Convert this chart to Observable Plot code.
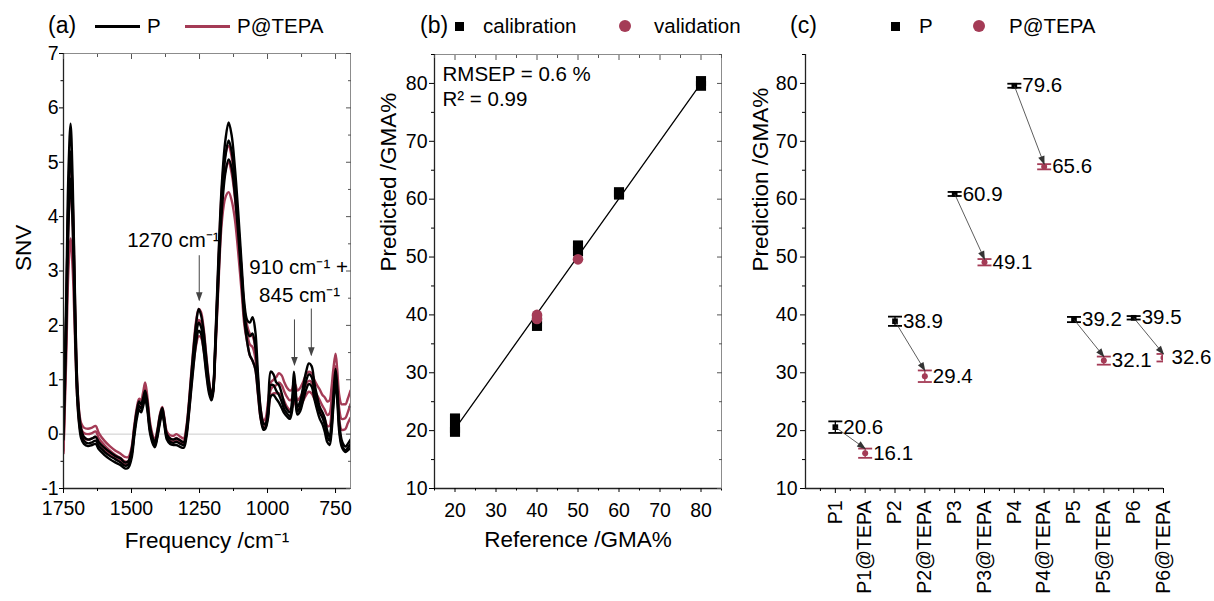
<!DOCTYPE html>
<html><head><meta charset="utf-8">
<script src="https://cdn.jsdelivr.net/npm/d3@7"></script>
<script src="https://cdn.jsdelivr.net/npm/@observablehq/plot@0.6"></script>
<style>
body{margin:0;background:#fff;font-family:"Liberation Sans",Arial,sans-serif;}
#wrap{position:relative;width:1214px;height:601px;overflow:hidden;background:#fff;}
.pan{position:absolute;top:40px;}
.leg{position:absolute;white-space:nowrap;line-height:1.2;color:#000;}
.sw{position:absolute;}
</style></head>
<body><div id="wrap"></div>
<script>
// ---------- Panel (a): spectra ----------
const wavenumber = [1750,1740,1732,1724,1716,1708,1700,1692,1685,1675,1660,1645,1632,1620,1600,1580,1560,1540,1525,1512,1500,1490,1480,1472,1465,1458,1450,1442,1432,1420,1414,1405,1395,1387,1380,1370,1358,1345,1335,1320,1308,1298,1288,1275,1262,1253,1245,1235,1225,1215,1206,1200,1192,1180,1168,1155,1143,1132,1120,1108,1095,1085,1075,1065,1055,1045,1035,1025,1015,1008,998,988,978,968,958,948,938,928,918,910,903,897,890,880,870,858,848,838,828,818,808,798,790,780,772,765,758,750,744,736,728,720,713,705,695];

const P_high = [0.3,2.5,4.8,5.71,4.6,2.6,1.0,0.35,0.1,-0.05,
 -0.1,-0.08,-0.05,-0.15,-0.25,-0.33,-0.4,-0.45,-0.52,-0.5,
 -0.3,0.1,0.45,0.6,0.55,0.65,0.8,0.6,0.15,-0.1,
 -0.15,0.05,0.35,0.48,0.3,0.0,-0.08,-0.1,-0.08,-0.12,
 -0.15,0.1,0.6,1.4,2.05,2.3,2.2,1.9,1.4,0.95,
 0.72,0.85,1.7,3.3,4.6,5.4,5.73,5.5,4.9,4.1,
 3.1,2.4,2.1,2.05,2.15,1.9,1.1,0.45,0.2,0.18,
 0.5,1.15,1.1,0.95,0.9,0.75,0.55,0.45,0.4,0.6,
 1.15,0.85,0.5,0.6,0.85,1.15,1.3,1.25,0.95,0.7,
 0.5,0.4,0.3,0.05,-0.05,0.2,0.7,1.2,0.9,0.2,
 -0.1,-0.2,-0.23,-0.18,-0.1];
const P_mid = [0.1,2.2,4.3,5.2,4.2,2.3,0.85,0.25,0.0,-0.12,
 -0.17,-0.15,-0.12,-0.22,-0.32,-0.4,-0.46,-0.52,-0.58,-0.56,
 -0.38,0.02,0.38,0.52,0.47,0.57,0.72,0.52,0.08,-0.16,
 -0.2,-0.02,0.28,0.42,0.24,-0.05,-0.14,-0.16,-0.14,-0.18,
 -0.2,0.02,0.5,1.25,1.85,2.05,1.98,1.7,1.25,0.85,
 0.66,0.8,1.6,3.1,4.35,5.1,5.4,5.2,4.65,3.9,
 2.95,2.25,1.9,1.8,1.85,1.6,0.95,0.35,0.12,0.12,
 0.38,0.9,0.9,0.8,0.72,0.6,0.45,0.38,0.33,0.5,
 0.95,0.7,0.42,0.5,0.72,0.98,1.1,1.05,0.8,0.58,
 0.4,0.3,0.18,-0.05,-0.12,0.1,0.6,1.05,0.75,0.1,
 -0.18,-0.27,-0.3,-0.25,-0.18];
const P_low = [-0.1,1.8,3.8,4.7,3.8,2.0,0.7,0.15,-0.08,-0.18,
 -0.22,-0.2,-0.18,-0.28,-0.38,-0.46,-0.52,-0.57,-0.63,-0.62,
 -0.45,-0.05,0.3,0.45,0.4,0.5,0.65,0.45,0.02,-0.2,
 -0.24,-0.06,0.22,0.38,0.2,-0.1,-0.18,-0.2,-0.2,-0.24,
 -0.25,-0.05,0.42,1.1,1.7,1.9,1.85,1.55,1.1,0.75,
 0.62,0.75,1.5,2.9,4.1,4.8,5.05,4.9,4.4,3.7,
 2.8,2.1,1.7,1.45,1.35,1.2,0.75,0.28,0.08,0.1,
 0.3,0.7,0.72,0.65,0.58,0.48,0.38,0.32,0.28,0.42,
 0.8,0.6,0.36,0.42,0.6,0.82,0.92,0.88,0.65,0.45,
 0.28,0.18,0.05,-0.15,-0.2,0.02,0.5,0.95,0.65,0.02,
 -0.22,-0.3,-0.33,-0.3,-0.25];
const T_high = [-0.2,2.2,4.3,5.15,4.3,2.5,1.0,0.4,0.2,0.12,
 0.1,0.12,0.15,0.02,-0.12,-0.22,-0.3,-0.36,-0.42,-0.42,
 -0.25,0.15,0.5,0.65,0.62,0.75,0.95,0.7,0.22,-0.05,
 -0.1,0.08,0.38,0.5,0.33,0.05,-0.02,-0.03,0.0,-0.05,
 -0.08,0.15,0.65,1.45,2.1,2.3,2.25,1.95,1.45,0.98,
 0.75,0.85,1.65,3.2,4.5,5.15,5.3,5.1,4.6,3.85,
 2.95,2.3,2.0,1.85,1.8,1.6,1.0,0.45,0.25,0.28,
 0.6,0.95,1.0,1.05,1.12,1.08,0.95,0.85,0.8,0.82,
 0.95,0.9,0.8,0.85,0.95,1.1,1.15,1.12,1.0,0.9,
 0.82,0.72,0.68,0.6,0.62,0.85,1.2,1.48,1.2,0.7,
 0.55,0.55,0.55,0.65,0.8];
const T_mid = [-0.3,1.8,3.8,4.6,3.8,2.2,0.85,0.3,0.1,0.02,
 0.0,0.02,0.05,-0.08,-0.2,-0.3,-0.38,-0.44,-0.5,-0.5,
 -0.32,0.08,0.42,0.57,0.54,0.66,0.85,0.6,0.14,-0.12,
 -0.16,0.02,0.3,0.44,0.28,0.0,-0.08,-0.1,-0.07,-0.12,
 -0.14,0.06,0.55,1.3,1.9,2.1,2.05,1.78,1.3,0.88,
 0.68,0.8,1.55,3.0,4.25,4.85,5.0,4.8,4.35,3.65,
 2.8,2.15,1.85,1.65,1.6,1.4,0.85,0.35,0.18,0.2,
 0.48,0.82,0.88,0.9,0.95,0.9,0.78,0.68,0.62,0.65,
 0.8,0.72,0.62,0.68,0.78,0.92,0.98,0.95,0.82,0.72,
 0.62,0.52,0.45,0.35,0.38,0.62,1.0,1.25,0.95,0.45,
 0.28,0.28,0.3,0.4,0.55];
const T_low = [-0.35,1.4,3.0,3.6,3.0,1.8,0.7,0.2,0.0,-0.08,
 -0.1,-0.08,-0.05,-0.15,-0.27,-0.36,-0.43,-0.49,-0.55,-0.55,
 -0.38,0.02,0.36,0.5,0.48,0.58,0.75,0.52,0.08,-0.16,
 -0.2,-0.03,0.25,0.4,0.24,-0.05,-0.12,-0.14,-0.12,-0.16,
 -0.18,0.0,0.45,1.15,1.65,1.8,1.78,1.55,1.15,0.8,
 0.65,0.78,1.45,2.8,3.9,4.35,4.45,4.3,3.95,3.35,
 2.6,2.0,1.7,1.45,1.35,1.2,0.72,0.28,0.12,0.15,
 0.38,0.7,0.75,0.75,0.75,0.7,0.6,0.5,0.45,0.48,
 0.62,0.55,0.45,0.5,0.6,0.72,0.78,0.75,0.65,0.55,
 0.45,0.35,0.28,0.15,0.15,0.4,0.8,1.0,0.75,0.25,
 0.08,0.08,0.1,0.2,0.3];

const annoText = ["1270 cm⁻¹", "910 cm⁻¹ +", "845 cm⁻¹"];
const annoW = [1346, 886, 882];
const annoV = [3.56, 3.07, 2.55];
const arrowW = [1251, 901, 839];
const arrowFrom = [3.29, 2.11, 2.31];
const arrowTo = [2.46, 1.27, 1.45];

const aXMajor = [1750, 1500, 1250, 1000, 750];
const aXMinor = [1625, 1375, 1125, 875];
const aYMajor = [-1, 0, 1, 2, 3, 4, 5, 6, 7];
const aYMinor = [-0.5, 0.5, 1.5, 2.5, 3.5, 4.5, 5.5, 6.5];

// ---------- Panel (b): calibration ----------
const calRef  = [20, 20, 20, 40, 40, 50, 50, 60, 60, 80, 80];
const calPred = [19.8, 20.5, 22.1, 38.1, 39.2, 51.0, 52.0, 60.8, 61.2, 79.6, 80.4];
const valRef  = [40, 40, 50];
const valPred = [39.3, 40.0, 49.6];
const fitRef  = [20, 80];
const fitPred = [20.3, 80.0];
const statsText = ["RMSEP = 0.6 %", "R² = 0.99"];
const bXMajor = [20, 30, 40, 50, 60, 70, 80];
const bXMinor = [15, 25, 35, 45, 55, 65, 75, 85];
const bYMajor = [10, 20, 30, 40, 50, 60, 70, 80];
const bYMinor = [15, 25, 35, 45, 55, 65, 75, 85];

// ---------- Panel (c): predictions ----------
const sampleCats = ["P1","P1@TEPA","P2","P2@TEPA","P3","P3@TEPA","P4","P4@TEPA","P5","P5@TEPA","P6","P6@TEPA"];
const pValues = [20.6, 38.9, 60.9, 79.6, 39.2, 39.5];
const pErrors = [1.0, 0.8, 0.35, 0.35, 0.45, 0.3];
const tValues = [16.1, 29.4, 49.1, 65.6, 32.1, 32.6];
const tErrors = [0.8, 1.0, 0.55, 0.45, 0.7, 0.65];

// ---------- shared ----------
const RED = "#a43b56";
const FONT = "Liberation Sans, Arial, sans-serif";
const STYLE = {fontFamily: FONT, fontSize: "19.5px", color: "black", background: "transparent", overflow: "visible"};
const AXIS = "#222";
const FRAME = "#8c8c8c";

const wrap = document.getElementById("wrap");

function place(svg, left) {
  svg.classList.add("pan");
  svg.style.left = left + "px";
  d3.select(svg).selectAll("marker").each(function () {
    const m = d3.select(this);
    const c = m.attr("stroke") || "black";
    m.attr("viewBox", "-10 -5 12 10").attr("markerWidth", 12).attr("markerHeight", 10)
      .attr("markerUnits", "userSpaceOnUse").attr("fill", c).attr("stroke", "none");
    m.select("path").attr("d", "M-8,-3.3L1,0L-8,3.3Z");
  });
  wrap.appendChild(svg);
}

// rows for panel a
const spectraRows = (arr, name) => arr.map((v, i) => ({w: wavenumber[i], v, s: name}));
const redRows = [...spectraRows(T_low, "tl"), ...spectraRows(T_mid, "tm"), ...spectraRows(T_high, "th")];
const blackRows = [...spectraRows(P_low, "pl"), ...spectraRows(P_mid, "pm"), ...spectraRows(P_high, "ph")];
const annoRows = annoText.map((t, i) => ({t, w: annoW[i], v: annoV[i]}));
const arrowRows = arrowW.map((w, i) => ({w, v1: arrowFrom[i], v2: arrowTo[i]}));

const plotA = Plot.plot({
  width: 370, height: 561, marginTop: 13, marginBottom: 113, marginLeft: 63, marginRight: 20,
  style: STYLE,
  x: {domain: [1750, 695]},
  y: {domain: [-1, 7]},
  marks: [
    Plot.ruleY([0], {stroke: "#cccccc", strokeWidth: 1}),
    Plot.line(redRows, {x: "w", y: "v", z: "s", stroke: RED, strokeWidth: 2.4, curve: "catmull-rom", clip: true}),
    Plot.line(blackRows, {x: "w", y: "v", z: "s", stroke: "black", strokeWidth: 2.4, curve: "catmull-rom", clip: true}),
    Plot.frame({stroke: FRAME}),
    Plot.ruleX([1750], {stroke: AXIS, strokeWidth: 1.3}),
    Plot.ruleY([-1], {stroke: AXIS, strokeWidth: 1.3}),
    Plot.axisX({anchor: "bottom", ticks: aXMajor, tickSize: 5, tickPadding: 8, tickFormat: d => String(d), label: null}),
    Plot.axisX({anchor: "bottom", ticks: aXMinor, tickSize: 3, fill: "none", label: null}),
    Plot.axisX({anchor: "top", ticks: aXMajor, tickSize: -5, fill: "none", stroke: "#555", label: null}),
    Plot.axisX({anchor: "top", ticks: aXMinor, tickSize: -3, fill: "none", stroke: "#555", label: null}),
    Plot.axisY({anchor: "left", ticks: aYMajor, tickSize: 4, tickPadding: 1, tickFormat: d => String(d), label: null}),
    Plot.axisY({anchor: "left", ticks: aYMinor, tickSize: 2.5, fill: "none", label: null}),
    Plot.axisY({anchor: "right", ticks: aYMajor, tickSize: -5, fill: "none", stroke: "#555", label: null}),
    Plot.axisY({anchor: "right", ticks: aYMinor, tickSize: -3, fill: "none", stroke: "#555", label: null}),
    Plot.link(arrowRows, {x1: "w", x2: "w", y1: "v1", y2: "v2", stroke: "#444", strokeWidth: 1, markerEnd: "arrow"}),
    Plot.text(annoRows, {x: "w", y: "v", text: "t", fontSize: 20.5}),
    Plot.text(["SNV"], {frameAnchor: "left", rotate: -90, dx: -40, fontSize: 22.5, lineAnchor: "middle"}),
    Plot.text(["Frequency /cm⁻¹"], {frameAnchor: "bottom", dy: 52, fontSize: 22.5, lineAnchor: "middle"})
  ]
});
place(plotA, 0);

// panel b
const calRows = calRef.map((r, i) => ({r, p: calPred[i]}));
const valRows = valRef.map((r, i) => ({r, p: valPred[i]}));
const fitRows = fitRef.map((r, i) => ({r, p: fitPred[i]}));

const plotB = Plot.plot({
  width: 370, height: 561, marginTop: 14, marginBottom: 113, marginLeft: 64, marginRight: 19,
  style: STYLE,
  x: {domain: [15, 85]},
  y: {domain: [10, 85]},
  marks: [
    Plot.frame({stroke: FRAME}),
    Plot.ruleX([15], {stroke: AXIS, strokeWidth: 1.3}),
    Plot.ruleY([10], {stroke: AXIS, strokeWidth: 1.3}),
    Plot.axisX({anchor: "bottom", ticks: bXMajor, tickSize: 4, tickPadding: 11, label: null}),
    Plot.axisX({anchor: "bottom", ticks: bXMinor, tickSize: 2.5, fill: "none", label: null}),
    Plot.axisX({anchor: "top", ticks: bXMajor, tickSize: -5, fill: "none", stroke: "#555", label: null}),
    Plot.axisX({anchor: "top", ticks: bXMinor, tickSize: -3, fill: "none", stroke: "#555", label: null}),
    Plot.axisY({anchor: "left", ticks: bYMajor, tickSize: 5, tickPadding: 2, label: null}),
    Plot.axisY({anchor: "left", ticks: bYMinor, tickSize: 3, fill: "none", label: null}),
    Plot.axisY({anchor: "right", ticks: bYMajor, tickSize: -5, fill: "none", stroke: "#555", label: null}),
    Plot.axisY({anchor: "right", ticks: bYMinor, tickSize: -3, fill: "none", stroke: "#555", label: null}),
    Plot.line(fitRows, {x: "r", y: "p", stroke: "black", strokeWidth: 1.3}),
    Plot.dot(calRows, {x: "r", y: "p", symbol: "square", r: 5.7, fill: "black", stroke: "none"}),
    Plot.dot(valRows, {x: "r", y: "p", symbol: "circle", r: 5.3, fill: RED, stroke: "none"}),
    Plot.text([statsText.join("\n")], {frameAnchor: "top-left", dx: 8, dy: 9, lineAnchor: "top", lineHeight: 1.22, fontSize: 20.5, textAnchor: "start"}),
    Plot.text(["Predicted /GMA%"], {frameAnchor: "left", rotate: -90, dx: -46, fontSize: 22.5, lineAnchor: "middle"}),
    Plot.text(["Reference /GMA%"], {frameAnchor: "bottom", dy: 51, fontSize: 22.5, lineAnchor: "middle"})
  ]
});
place(plotB, 370);

// panel c
const pRows = pValues.map((v, k) => ({i: 2 * k + 1, v, e: pErrors[k]}));
const tRows = tValues.map((v, k) => ({i: 2 * k + 2, v, e: tErrors[k]}));
const allRows = [...pRows, ...tRows];
const pairRows = pRows.map((p, k) => ({x1: p.i, y1: p.v, x2: tRows[k].i, y2: tRows[k].v + tRows[k].e}));
const capSymbol = {draw(ctx) { ctx.moveTo(-7, 0); ctx.lineTo(7, 0); }};
const cXMajor = sampleCats.map((c, k) => k + 1);
const cXMinor = sampleCats.map((c, k) => k + 0.5);

const errMarks = (rows, color) => [
  Plot.ruleX(rows, {x: "i", y1: d => d.v - d.e, y2: d => d.v + d.e, stroke: color, strokeWidth: 1.3, clip: true}),
  Plot.dot(rows, {x: "i", y: d => d.v + d.e, symbol: capSymbol, stroke: color, strokeWidth: 1.8, fill: "none", clip: true}),
  Plot.dot(rows, {x: "i", y: d => d.v - d.e, symbol: capSymbol, stroke: color, strokeWidth: 1.8, fill: "none", clip: true})
];

const plotC = Plot.plot({
  width: 474, height: 561, marginTop: 14, marginBottom: 113, marginLeft: 65, marginRight: 51,
  style: STYLE,
  x: {domain: [0, 12]},
  y: {domain: [10, 85]},
  marks: [
    Plot.ruleX([0], {stroke: AXIS, strokeWidth: 1.3}),
    Plot.ruleY([10], {stroke: AXIS, strokeWidth: 1.3}),
    Plot.axisX({anchor: "bottom", ticks: cXMajor, tickSize: 5, tickPadding: 7, tickRotate: -90, tickFormat: d => sampleCats[d - 1], label: null}),
    Plot.axisX({anchor: "bottom", ticks: cXMinor, tickSize: 3, fill: "none", label: null}),
    Plot.axisY({anchor: "left", ticks: bYMajor, tickSize: 5, tickPadding: 3, label: null}),
    Plot.axisY({anchor: "left", ticks: bYMinor, tickSize: 3, fill: "none", label: null}),
    ...errMarks(pRows, "black"),
    ...errMarks(tRows, RED),
    Plot.dot(pRows, {x: "i", y: "v", symbol: "square", r: 3.2, fill: "black", stroke: "none"}),
    Plot.dot(tRows, {x: "i", y: "v", symbol: "circle", r: 3, fill: RED, stroke: "none", clip: true}),
    Plot.link(pairRows, {x1: "x1", y1: "y1", x2: "x2", y2: "y2", stroke: "#333", strokeWidth: 0.8, markerEnd: "arrow"}),
    Plot.text(allRows, {x: "i", y: "v", text: d => d.v.toFixed(1), dx: 8, textAnchor: "start", fontSize: 20.5}),
    Plot.text(["Prediction /GMA%"], {frameAnchor: "left", rotate: -90, dx: -45, fontSize: 22.5, lineAnchor: "middle"})
  ]
});
place(plotC, 740);

// ---------- legends ----------
function legText(txt, x, cy, size) {
  const d = document.createElement("div");
  d.className = "leg";
  d.textContent = txt;
  d.style.left = x + "px";
  d.style.top = (cy - size * 0.59) + "px";
  d.style.fontSize = size + "px";
  wrap.appendChild(d);
}
function swatch(x, y, w, h, color, round) {
  const d = document.createElement("div");
  d.className = "sw";
  Object.assign(d.style, {left: x + "px", top: y + "px", width: w + "px", height: h + "px", background: color, borderRadius: round ? "50%" : "0"});
  wrap.appendChild(d);
}
const LEGY = 26;
legText("(a)", 48, LEGY, 23);
swatch(95, LEGY - 1.5, 45, 3, "black");
legText("P", 147, LEGY, 20.5);
swatch(185, LEGY - 1.5, 45, 3, RED);
legText("P@TEPA", 237, LEGY, 20.5);

legText("(b)", 420, LEGY, 23);
swatch(454.5, LEGY - 4.5, 9, 9, "black");
legText("calibration", 483, LEGY, 20.5);
swatch(619, LEGY - 6, 12, 12, RED, true);
legText("validation", 654, LEGY, 20.5);

legText("(c)", 790, LEGY, 23);
swatch(890.5, LEGY - 4.5, 9, 9, "black");
legText("P", 919, LEGY, 20.5);
swatch(973, LEGY - 6, 12, 12, RED, true);
legText("P@TEPA", 1009, LEGY, 20.5);
</script>
</body></html>
